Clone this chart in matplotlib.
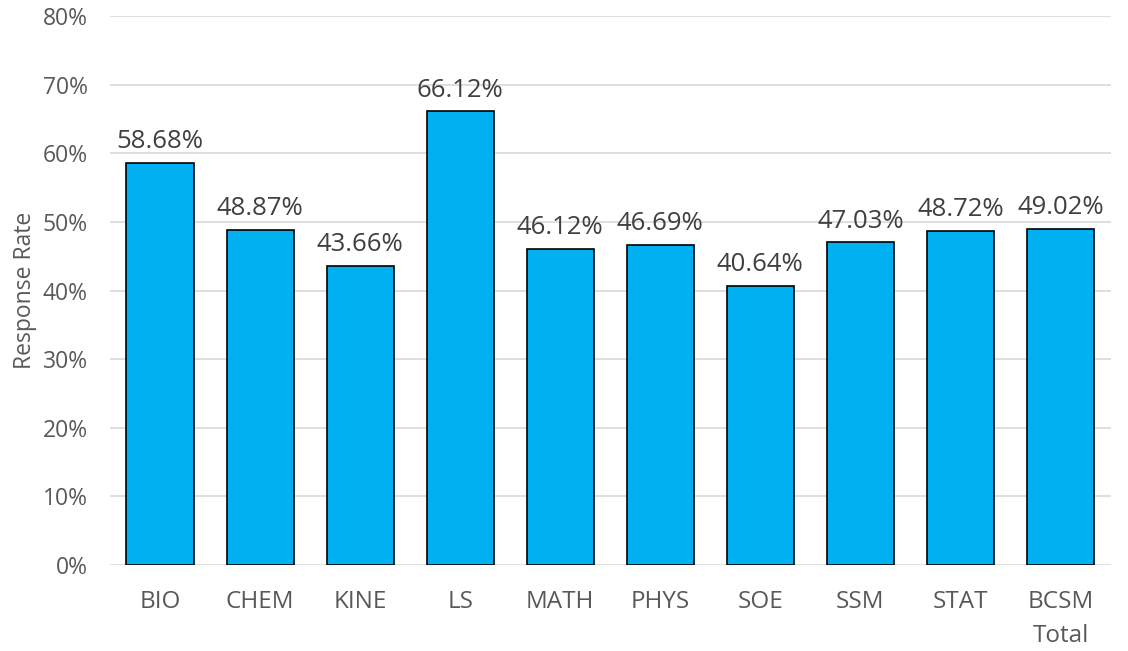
import matplotlib.pyplot as plt
from matplotlib.ticker import PercentFormatter

departments = ['BIO', 'CHEM', 'KINE', 'LS', 'MATH', 'PHYS', 'SOE', 'SSM', 'STAT', 'BCSM\nTotal']
response_rate = [58.68, 48.87, 43.66, 66.12, 46.12, 46.69, 40.64, 47.03, 48.72, 49.02]

plt.rcParams['font.family'] = ['Open Sans', 'DejaVu Sans']
text_color = '#595959'

fig = plt.figure(figsize=(11.28, 6.51), dpi=100)
ax = fig.add_axes([0.0975, 0.132, 0.887, 0.843])

x = range(len(departments))
bars = ax.bar(x, response_rate, width=0.67, color='#00B0F0',
              edgecolor='black', linewidth=1.2, zorder=3)
for xi, val in zip(x, response_rate):
    ax.text(xi, val + 1.3, '{:.2f}%'.format(val), ha='center', va='bottom',
            fontsize=18.5, color='#404040')

ax.set_ylim(0, 80)
ax.set_xlim(-0.5, len(departments) - 0.5)
ax.set_yticks(range(0, 81, 10))
ax.yaxis.set_major_formatter(PercentFormatter(decimals=0))
ax.grid(axis='y', color='#D9D9D9', linewidth=1.2, zorder=0)
ax.set_xticks(list(x))
ax.set_xticklabels(departments, linespacing=1.55)
ax.tick_params(axis='x', length=0, labelsize=17.5, colors=text_color, pad=18)
ax.tick_params(axis='y', length=0, labelsize=16.5, colors=text_color, pad=16)
for side in ['top', 'right', 'left', 'bottom']:
    ax.spines[side].set_visible(False)
ax.set_ylabel('Response Rate', fontsize=16.5, color=text_color, labelpad=4)

fig.savefig('out.png', dpi=100)
